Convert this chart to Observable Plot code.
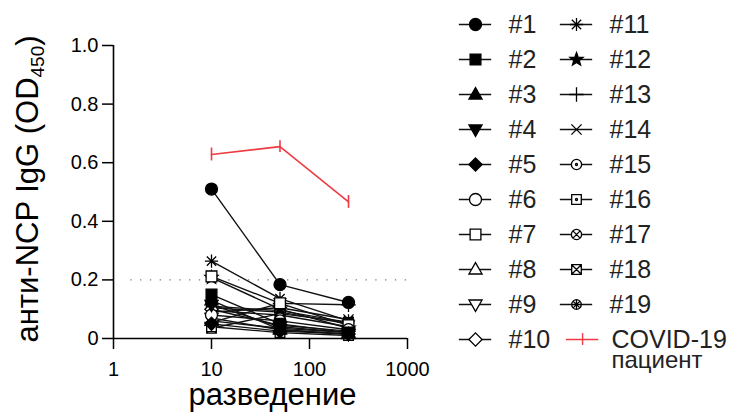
<!DOCTYPE html>
<html><head><meta charset="utf-8">
<script src="https://cdn.jsdelivr.net/npm/d3@7"></script>
<script src="https://cdn.jsdelivr.net/npm/@observablehq/plot@0.6"></script>
<style>
body{margin:0;background:#fff;}
#wrap{position:relative;width:731px;height:414px;overflow:hidden;background:#fff;}
#chart{position:absolute;left:0;top:0;}
#legend{position:absolute;left:440px;top:0;}
</style></head><body><div id="wrap"><div id="chart"></div><div id="legend"></div></div>
<script>
// ---------- data ----------
const dilutions = [10, 50, 250];
const donors = ["#1","#2","#3","#4","#5","#6","#7","#8","#9","#10","#11","#12","#13","#14","#15","#16","#17","#18","#19"];
const d1  = [0.51, 0.184, 0.123];
const d2  = [0.15, 0.05, 0.02];
const d3v = [0.13, 0.03, 0.015];
const d4  = [0.115, 0.04, 0.02];
const d5  = [0.05, 0.025, 0.015];
const d6  = [0.08, 0.06, 0.03];
const d7  = [0.212, 0.12, 0.045];
const d8  = [0.06, 0.035, 0.02];
const d9  = [0.07, 0.03, 0.015];
const d10 = [0.10, 0.045, 0.025];
const d11 = [0.264, 0.136, 0.06];
const d12 = [0.208, 0.10, 0.035];
const d13 = [0.055, 0.12, 0.115];
const d14 = [0.09, 0.105, 0.065];
const d15 = [0.105, 0.09, 0.05];
const d16 = [0.04, 0.02, 0.01];
const d17 = [0.11, 0.095, 0.055];
const d18 = [0.035, 0.085, 0.055];
const d19 = [0.095, 0.08, 0.04];
const donorValues = [d1,d2,d3v,d4,d5,d6,d7,d8,d9,d10,d11,d12,d13,d14,d15,d16,d17,d18,d19];
const covidMean = [0.628, 0.655, 0.466];
const covidSD = [0.022, 0.02, 0.022];
const cutoff = [0.2];
const yTicks = [0, 0.2, 0.4, 0.6, 0.8, 1.0];
const xTicks = [1, 10, 100, 1000];
const yLabelParts = ["анти-NCP IgG (OD", "450", ")"];
const xLabel = "разведение";
const covidLabel = ["COVID-19", "пациент"];

// ---------- symbols (style) ----------
const S = f => ({draw(c, size){ const r = Math.sqrt(size/Math.PI); f(c, r); }});
const circ = (c, r) => { c.moveTo(r, 0); c.arc(0, 0, r, 0, 2*Math.PI); c.closePath(); };
const sq = (c, h) => { c.moveTo(-h,-h); c.lineTo(h,-h); c.lineTo(h,h); c.lineTo(-h,h); c.closePath(); };
const seg = (c, x1, y1, x2, y2) => { c.moveTo(x1,y1); c.lineTo(x2,y2); };
const dot = (c, r) => { const q = r*0.17; c.moveTo(q,0); c.arc(0,0,q,0,2*Math.PI); c.closePath(); };
const symCircle = S((c,r)=>circ(c,r));
const symSquare = S((c,r)=>sq(c,r*0.9));
const symTriUp = S((c,r)=>{const h=r*1.15; c.moveTo(0,-h); c.lineTo(h*0.95,h*0.65); c.lineTo(-h*0.95,h*0.65); c.closePath();});
const symTriDown = S((c,r)=>{const h=r*1.15; c.moveTo(0,h); c.lineTo(h*0.95,-h*0.65); c.lineTo(-h*0.95,-h*0.65); c.closePath();});
const symDiamond = S((c,r)=>{const h=r*1.1; c.moveTo(0,-h); c.lineTo(h,0); c.lineTo(0,h); c.lineTo(-h,0); c.closePath();});
const symAsterisk = S((c,r)=>{for(let k=0;k<4;k++){const a=k*Math.PI/4,x=Math.cos(a)*r*1.1,y=Math.sin(a)*r*1.1; seg(c,x,y,-x,-y);}});
const symStar = S((c,r)=>{const R=r*1.15, q=R*0.42; for(let k=0;k<10;k++){const a=-Math.PI/2+k*Math.PI/5, rr=k%2?q:R; const x=Math.cos(a)*rr, y=Math.sin(a)*rr; if(k===0) c.moveTo(x,y); else c.lineTo(x,y);} c.closePath();});
const symPlus = S((c,r)=>{const h=r*1.2; seg(c,0,-h,0,h); seg(c,-h,0,h,0);});
const symTimes = S((c,r)=>{const h=r*0.85; seg(c,-h,-h,h,h); seg(c,-h,h,h,-h);});
const symCircleDot = S((c,r)=>{circ(c,r*0.85); dot(c,r);});
const symSquareDot = S((c,r)=>{sq(c,r*0.8); dot(c,r);});
const symCircleX = S((c,r)=>{circ(c,r*0.85); const h=r*0.6; seg(c,-h,-h,h,h); seg(c,-h,h,h,-h);});
const symSquareX = S((c,r)=>{const h=r*0.8; sq(c,h); seg(c,-h,-h,h,h); seg(c,-h,h,h,-h);});
const symCircleXP = S((c,r)=>{const R=r*0.8; circ(c,R); const h=R*0.7; seg(c,-h,-h,h,h); seg(c,-h,h,h,-h); seg(c,0,-R,0,R); seg(c,-R,0,R,0);});
const BLACK = "#000", WHITE = "#fff", NONE = "none";
const markerStyles = [
  [symCircle, BLACK], [symSquare, BLACK], [symTriUp, BLACK], [symTriDown, BLACK], [symDiamond, BLACK],
  [symCircle, WHITE], [symSquare, WHITE], [symTriUp, WHITE], [symTriDown, WHITE], [symDiamond, WHITE],
  [symAsterisk, NONE], [symStar, BLACK], [symPlus, NONE], [symTimes, NONE], [symCircleDot, WHITE],
  [symSquareDot, WHITE], [symCircleX, WHITE], [symSquareX, WHITE], [symCircleXP, WHITE]
];
const RED = "#ee3b44";
const FONT = "'Liberation Sans', Arial, sans-serif";

// ---------- tables ----------
const rows = donors.flatMap((name, i) => dilutions.map((x, j) => ({donor: name, i, dilution: x, od: donorValues[i][j]})));
const covidRows = dilutions.map((x, j) => ({dilution: x, mean: covidMean[j], sd: covidSD[j]}));
const yLabel = yLabelParts.join("");

const dotMarks = [];
for (let i = donors.length - 1; i >= 0; i--) {
  const [sym, fill] = markerStyles[i];
  dotMarks.push(Plot.dot(rows.filter(d => d.i === i), {x: "dilution", y: "od", symbol: sym, r: 6, fill, stroke: "#000", strokeWidth: 1.3}));
}

const chart = Plot.plot({
  width: 731, height: 414,
  marginLeft: 113, marginRight: 324, marginTop: 45, marginBottom: 76,
  style: {fontFamily: FONT, fontSize: "20px", color: "#000", background: "transparent", overflow: "visible"},
  x: {type: "log", domain: [1, 1000]},
  y: {domain: [0, 1]},
  marks: [
    Plot.ruleY(cutoff, {x1: 1.5, x2: 1000, stroke: "#777", strokeWidth: 1.3, strokeDasharray: "1.3 8.5"}),
    Plot.line(rows, {x: "dilution", y: "od", z: "donor", stroke: "#111", strokeWidth: 1.4}),
    ...dotMarks,
    Plot.line(covidRows, {x: "dilution", y: "mean", stroke: RED, strokeWidth: 1.6}),
    Plot.ruleX(covidRows, {x: "dilution", y1: d => d.mean - d.sd, y2: d => d.mean + d.sd, stroke: RED, strokeWidth: 1.6}),
    Plot.ruleX([1], {stroke: "#000", strokeWidth: 1.6}),
    Plot.ruleY([0], {stroke: "#000", strokeWidth: 1.6}),
    Plot.axisY({ticks: yTicks, tickFormat: d => d === 0 ? "0" : d.toFixed(1), tickSize: 11, tickPadding: 4, fontSize: 20, color: "#000", strokeWidth: 1.5, label: null}),
    Plot.axisX({ticks: xTicks, tickFormat: d => String(d), tickSize: 11, tickPadding: 12, fontSize: 20, color: "#000", strokeWidth: 1.5, label: null}),
    Plot.text([yLabel], {text: d => d, frameAnchor: "left", textAnchor: "middle", rotate: -90, dx: -85, dy: -3, fontSize: 31, fill: "#000"}),
    Plot.text([xLabel], {text: d => d, frameAnchor: "bottom", textAnchor: "middle", dx: 12, dy: 66, fontSize: 31, fill: "#000"})
  ]
});
document.getElementById("chart").appendChild(chart);

// subscript in y label
d3.select(chart).selectAll("text").filter(function(){ return this.textContent === yLabel; }).each(function(){
  const t = d3.select(this);
  t.text(yLabelParts[0]);
  t.append("tspan").attr("font-size", 19).attr("dy", 6).text(yLabelParts[1]);
  t.append("tspan").attr("font-size", 31).attr("dy", -6).text(yLabelParts[2]);
});

// ---------- legend ----------
const legendRows = donors.map((name, i) => ({name, i, col: i < 10 ? 0 : 1, row: i % 10}));
const covidEntry = [{col: 1, row: 9}];
const legendDots = legendRows.map(d => {
  const [sym, fill] = markerStyles[d.i];
  return Plot.dot([d], {x: "col", y: "row", symbol: sym, r: 6, fill, stroke: "#000", strokeWidth: 1.3});
});
const legend = Plot.plot({
  width: 291, height: 414, margin: 0,
  style: {fontFamily: FONT, background: "transparent", overflow: "visible"},
  x: {domain: [0, 1], range: [35, 136], axis: null},
  y: {domain: [0, 9], range: [24, 339], axis: null},
  marks: [
    Plot.ruleY(legendRows, {y: "row", x1: d => d.col - 0.16, x2: d => d.col + 0.16, stroke: "#111", strokeWidth: 1.3}),
    ...legendDots,
    Plot.text(legendRows, {x: "col", y: "row", text: "name", dx: 33, textAnchor: "start", fontSize: 25, fill: "#222"}),
    Plot.ruleY(covidEntry, {y: "row", x1: d => d.col - 0.1, x2: d => d.col + 0.22, stroke: RED, strokeWidth: 1.4}),
    Plot.ruleX(covidEntry, {x: d => d.col + 0.06, y1: d => d.row - 0.17, y2: d => d.row + 0.17, stroke: RED, strokeWidth: 1.4}),
    Plot.text(covidEntry, {x: "col", y: "row", text: () => covidLabel[0], dx: 35, textAnchor: "start", fontSize: 25, fill: "#222"}),
    Plot.text(covidEntry, {x: "col", y: "row", text: () => covidLabel[1], dx: 35, dy: 21, textAnchor: "start", fontSize: 24, fill: "#222"})
  ]
});
document.getElementById("legend").appendChild(legend);
</script>
</body></html>
